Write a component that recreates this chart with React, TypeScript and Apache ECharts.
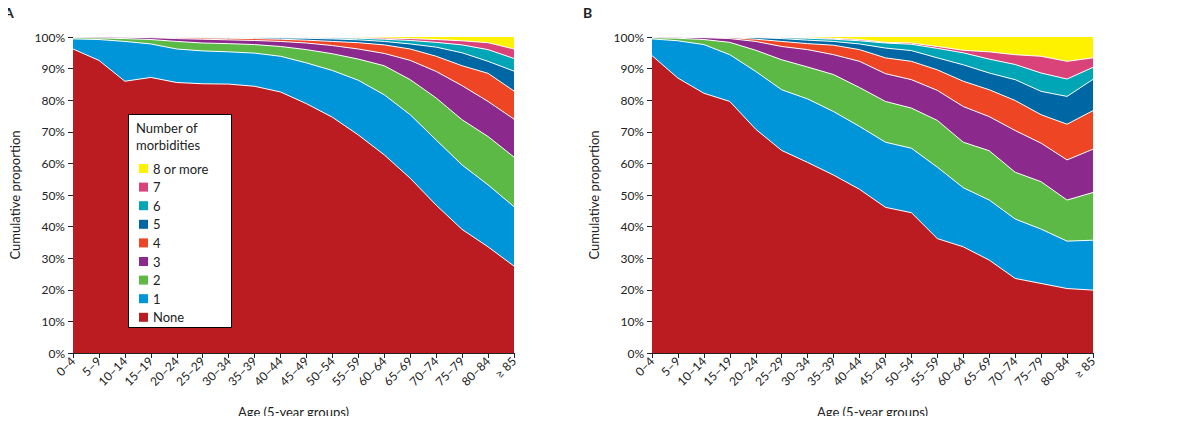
import { useEffect, useRef } from "react";
import * as echarts from "echarts";

const ages = ["0–4", "5–9", "10–14", "15–19", "20–24", "25–29", "30–34", "35–39", "40–44", "45–49", "50–54", "55–59", "60–64", "65–69", "70–74", "75–79", "80–84", "≥ 85"];
const yTicks = [0, 10, 20, 30, 40, 50, 60, 70, 80, 90, 100];

// cumulative upper boundary (%) of each morbidity group, panel A
const aNone = [96.2, 92.6, 86, 87.2, 85.6, 85.2, 85.1, 84.4, 82.6, 78.9, 74.6, 69, 62.7, 55.3, 46.8, 39.1, 33.6, 27.5];
const aOne = [99.4, 99.2, 98.6, 97.8, 96.2, 95.6, 95.3, 94.9, 93.9, 91.8, 89.4, 86.3, 81.7, 75.4, 67.4, 59.5, 53.2, 46.3];
const aTwo = [99.8, 99.7, 99.5, 99.2, 98.6, 98.1, 97.9, 97.6, 97, 96, 94.7, 93, 90.9, 86.5, 80.7, 73.8, 68.5, 62];
const aThree = [100, 100, 99.9, 99.8, 99.5, 99.3, 99.1, 98.9, 98.6, 98.1, 97.3, 96.2, 94.8, 92.6, 89.1, 84.6, 79.6, 74];
const aFour = [100, 100, 100, 99.9, 99.8, 99.7, 99.6, 99.5, 99.3, 99, 98.6, 98.2, 97.5, 96.2, 93.9, 90.9, 88.5, 82.9];
const aFive = [100, 100, 100, 100, 99.9, 99.9, 99.8, 99.8, 99.7, 99.6, 99.4, 99.1, 98.6, 97.8, 96.8, 95, 92.3, 89.2];
const aSix = [100, 100, 100, 100, 100, 100, 99.9, 99.9, 99.9, 99.8, 99.7, 99.6, 99.3, 98.9, 98.3, 97.5, 96, 93.2];
const aSeven = [100, 100, 100, 100, 100, 100, 100, 100, 100, 99.9, 99.9, 99.8, 99.7, 99.5, 99.2, 98.8, 98.2, 96.2];

// panel B
const bNone = [94.1, 87, 82.2, 79.6, 70.8, 64.1, 60.3, 56.3, 51.8, 46.1, 44.4, 36.2, 33.6, 29.4, 23.6, 22, 20.4, 19.9];
const bOne = [99.4, 98.8, 97.6, 94.4, 89.1, 83.3, 80.4, 76.4, 71.7, 66.7, 64.8, 58.8, 52.3, 48.4, 42.4, 39.2, 35.4, 35.7];
const bTwo = [99.8, 99.6, 99.2, 98.3, 95.8, 92.8, 90.5, 88.1, 84, 79.6, 77.5, 73.6, 66.7, 64, 57.2, 54.2, 48.4, 50.8];
const bThree = [100, 99.9, 99.8, 99.5, 98.6, 97, 96, 94.4, 92.3, 88.4, 86.5, 83.1, 78, 74.8, 70.4, 66.4, 61.1, 64.5];
const bFour = [100, 100, 99.9, 99.8, 99.3, 98.6, 97.9, 97.4, 96, 93.4, 92.3, 89.6, 86, 83.3, 79.9, 75.4, 72.4, 76.7];
const bFive = [100, 100, 100, 99.9, 99.8, 99.5, 99, 98.6, 97.8, 96.5, 95.7, 93.4, 91.2, 88.6, 86.5, 82.8, 81.2, 86.6];
const bSix = [100, 100, 100, 100, 99.9, 99.8, 99.6, 99.3, 98.8, 98.1, 97.7, 96.4, 95, 93, 91.3, 88.6, 86.7, 90.4];
const bSeven = [100, 100, 100, 100, 100, 99.9, 99.8, 99.6, 99.2, 98.3, 98.1, 97, 95.8, 95.3, 94.4, 93.9, 92.3, 93.4];
const full = ages.map(() => 100);

const groups = ["8 or more", "7", "6", "5", "4", "3", "2", "1", "None"];
const colors = ["#fff200", "#d9437a", "#00a6b5", "#0067a5", "#ee4524", "#8b2a8c", "#5cb946", "#0095d9", "#bb1c22"];
const panelA = [full, aSeven, aSix, aFive, aFour, aThree, aTwo, aOne, aNone];
const panelB = [full, bSeven, bSix, bFive, bFour, bThree, bTwo, bOne, bNone];

const font = "Lato, 'Open Sans', sans-serif";
const ink = "#222";

export default function App() {
  const ref = useRef<HTMLDivElement>(null);

  useEffect(() => {
    if (!ref.current) return;
    const chart = echarts.init(ref.current, null, { renderer: "svg" });

    const axisX = (gridIndex: number) => ({
      type: "category",
      gridIndex,
      data: ages,
      boundaryGap: false,
      name: "Age (5-year groups)",
      nameLocation: "middle",
      nameGap: 52,
      nameTextStyle: { color: ink, fontSize: 13, fontFamily: font },
      axisLine: { lineStyle: { color: ink } },
      axisTick: { alignWithLabel: true, lineStyle: { color: ink } },
      axisLabel: { color: ink, fontSize: 12, fontFamily: font, rotate: 45, interval: 0, margin: 6 },
    });
    const axisY = (gridIndex: number) => ({
      type: "value",
      gridIndex,
      min: 0,
      max: 100,
      interval: 10,
      name: "Cumulative proportion",
      nameLocation: "middle",
      nameGap: 52,
      nameTextStyle: { color: ink, fontSize: 13, fontFamily: font },
      axisLine: { show: true, lineStyle: { color: ink } },
      axisTick: { show: true, lineStyle: { color: ink } },
      splitLine: { show: false },
      axisLabel: { color: ink, fontSize: 12, fontFamily: font, formatter: (v: number) => (yTicks.includes(v) ? v + "%" : "") },
    });

    const mk = (panel: number[][], idx: number) =>
      panel.map((d, i) => ({
        name: groups[i],
        type: "line",
        xAxisIndex: idx,
        yAxisIndex: idx,
        data: d,
        symbol: "none",
        lineStyle: { color: "#fff", width: i === 0 ? 0 : 1 },
        itemStyle: { color: colors[i] },
        areaStyle: { color: colors[i], opacity: 1 },
        z: 2 + i,
      }));

    chart.setOption({
      animation: false,
      textStyle: { fontFamily: font },
      grid: [
        { left: 73, right: 686, top: 37, bottom: 71 },
        { left: 652, right: 107, top: 37, bottom: 71 },
      ],
      xAxis: [axisX(0), axisX(1)],
      yAxis: [axisY(0), axisY(1)],
      legend: {
        data: groups,
        orient: "vertical",
        left: 134,
        top: 157,
        icon: "rect",
        itemWidth: 9,
        itemHeight: 9,
        itemGap: 5.6,
        z: 20,
        textStyle: { color: ink, fontSize: 13, fontFamily: font },
        selectedMode: false,
      },
      graphic: [
        { type: "rect", left: 128, top: 114, z: 15, shape: { width: 103, height: 213 }, style: { fill: "#fff", stroke: "#000", lineWidth: 1 } },
        { type: "text", left: 136, top: 119, z: 16, style: { text: "Number of\nmorbidities", fill: ink, fontSize: 13, lineHeight: 17, fontFamily: font } },
        { type: "text", left: 4, top: 5, style: { text: "A", fill: ink, fontSize: 14, fontWeight: "bold", fontFamily: font } },
        { type: "text", left: 583, top: 5, style: { text: "B", fill: ink, fontSize: 14, fontWeight: "bold", fontFamily: font } },
      ],
      series: [...mk(panelA, 0), ...mk(panelB, 1)],
    });

    return () => chart.dispose();
  }, []);

  return <div ref={ref} style={{ width: 1200, height: 424, margin: -8, background: "#fff" }} />;
}
